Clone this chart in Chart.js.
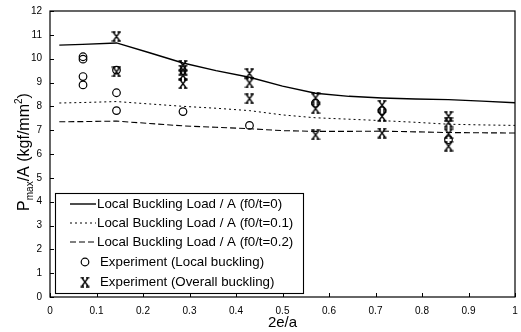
<!DOCTYPE html>
<html><head><meta charset="utf-8">
<script src="https://cdn.jsdelivr.net/npm/chart.js@4/dist/chart.umd.min.js"></script>
<style>html,body{margin:0;padding:0;background:#fff}#c{display:block}</style>
</head><body>
<canvas id="c" width="521" height="332"></canvas>
<script>
// ---- data ----
const curveX   = [0.02, 0.07, 0.143, 0.214, 0.286, 0.357, 0.429, 0.5, 0.571, 0.643, 0.714, 0.786, 0.857, 0.929, 1.0];
const curveF00 = [10.57, 10.6, 10.66, 10.25, 9.82, 9.5, 9.22, 8.85, 8.55, 8.42, 8.35, 8.31, 8.28, 8.22, 8.15];
const curveF01 = [8.14, 8.16, 8.2, 8.1, 8.0, 7.92, 7.82, 7.64, 7.52, 7.46, 7.4, 7.33, 7.25, 7.22, 7.2];
const curveF02 = [7.35, 7.36, 7.38, 7.28, 7.18, 7.12, 7.06, 6.98, 6.95, 6.95, 6.96, 6.93, 6.9, 6.89, 6.88];
const localX = [0.071, 0.071, 0.071, 0.071, 0.143, 0.143, 0.143, 0.286, 0.429, 0.571, 0.714, 0.857];
const localY = [10.08, 9.98, 9.25, 8.9, 9.52, 8.57, 7.82, 7.78, 7.2, 8.13, 7.82, 6.6];
const overallX = [0.143, 0.143, 0.286, 0.286, 0.286, 0.286, 0.429, 0.429, 0.429, 0.571, 0.571, 0.571, 0.714, 0.714, 0.714, 0.857, 0.857, 0.857, 0.857];
const overallY = [10.93, 9.45, 9.72, 9.52, 9.3, 8.95, 9.38, 8.98, 8.32, 8.35, 7.9, 6.8, 8.05, 7.58, 6.88, 7.58, 7.33, 6.85, 6.33];
const xTicks = [0, 0.1, 0.2, 0.3, 0.4, 0.5, 0.6, 0.7, 0.8, 0.9, 1];
const yTicks = [0, 1, 2, 3, 4, 5, 6, 7, 8, 9, 10, 11, 12];
const seriesNames = [
  'Local Buckling Load / A (f0/t=0)',
  'Local Buckling Load / A (f0/t=0.1)',
  'Local Buckling Load / A (f0/t=0.2)',
  'Experiment (Local buckling)',
  'Experiment (Overall buckling)'
];
const xTitle = '2e/a';

// ---- styles ----
const FONT = '"Liberation Sans", Arial, sans-serif';
const xMark = (() => {
  const c = document.createElement('canvas'); c.width = 10; c.height = 11;
  const g = c.getContext('2d'); g.strokeStyle = '#000'; g.lineWidth = 1.3; g.beginPath();
  g.moveTo(2, 1.5); g.lineTo(8, 9.5); g.moveTo(8, 1.5); g.lineTo(2, 9.5);
  g.moveTo(0.5, 1); g.lineTo(4, 1); g.moveTo(6, 1); g.lineTo(9.5, 1);
  g.moveTo(0.5, 10); g.lineTo(4, 10); g.moveTo(6, 10); g.lineTo(9.5, 10);
  g.stroke(); return c;
})();
const pts = (xs, ys) => xs.map((x, i) => ({x, y: ys[i]}));

const lineStyles = [
  {borderDash: [], borderWidth: 1.4},
  {borderDash: [2, 3], borderWidth: 1},
  {borderDash: [6, 3], borderWidth: 1.1}
];

const datasets = [
  {label: seriesNames[0], data: pts(curveX, curveF00), ...lineStyles[0]},
  {label: seriesNames[1], data: pts(curveX, curveF01), ...lineStyles[1]},
  {label: seriesNames[2], data: pts(curveX, curveF02), ...lineStyles[2]},
  {label: seriesNames[3], data: pts(localX, localY), showLine: false, pointStyle: 'circle',
   pointRadius: 3.8, pointBorderWidth: 1.2, pointBorderColor: '#000', pointBackgroundColor: 'rgba(0,0,0,0)'},
  {label: seriesNames[4], data: pts(overallX, overallY), showLine: false, pointStyle: xMark, pointRadius: 5}
].map((d, i) => Object.assign({borderColor: '#000', backgroundColor: '#000', tension: 0,
  pointRadius: 0, fill: false}, d, i < 3 ? {pointRadius: 0} : {}));

const decor = {
  id: 'decor',
  beforeDatasetsDraw(chart) {
    const {ctx, chartArea: a, scales: {x, y}} = chart;
    ctx.save();
    ctx.strokeStyle = '#000'; ctx.lineWidth = 1.2;
    ctx.strokeRect(a.left, a.top, a.right - a.left, a.bottom - a.top);
    ctx.lineWidth = 1; ctx.beginPath();
    xTicks.forEach(v => { const p = Math.round(x.getPixelForValue(v)) + 0.5; ctx.moveTo(p, a.bottom); ctx.lineTo(p, a.bottom - 4); });
    yTicks.forEach(v => { const p = Math.round(y.getPixelForValue(v)) + 0.5; ctx.moveTo(a.left, p); ctx.lineTo(a.left + 4, p); });
    ctx.stroke();
    ctx.restore();
  },
  afterDraw(chart) {
    const {ctx, chartArea: a} = chart;
    ctx.save();
    // legend
    const L = a.left + 5, T = a.top + 182, W = 248, H = 100;
    ctx.fillStyle = '#fff'; ctx.fillRect(L, T, W, H);
    ctx.strokeStyle = '#000'; ctx.lineWidth = 1.1; ctx.strokeRect(L + 0.5, T + 0.5, W, H);
    const rows = [11, 30, 49, 69, 89];
    ctx.font = '13.3px ' + FONT; ctx.textBaseline = 'middle'; ctx.textAlign = 'left'; ctx.fillStyle = '#000';
    chart.data.datasets.forEach((ds, i) => {
      const cy = T + rows[i];
      if (i < 3) {
        ctx.save(); ctx.setLineDash(ds.borderDash); ctx.lineWidth = ds.borderWidth;
        ctx.beginPath(); ctx.moveTo(L + 15, cy); ctx.lineTo(L + 41, cy); ctx.stroke(); ctx.restore();
        ctx.fillText(ds.label, L + 42, cy);
      } else {
        if (i === 3) { ctx.beginPath(); ctx.lineWidth = 1.2; ctx.arc(L + 30, cy, 3.8, 0, Math.PI * 2); ctx.stroke(); }
        else { ctx.drawImage(xMark, L + 25, cy - 5.5); }
        ctx.fillText(ds.label, L + 45, cy);
      }
    });
    // y title with subscript and superscript
    ctx.translate(25, 152);
    ctx.rotate(-Math.PI / 2);
    const big = '16px ' + FONT, small = '10px ' + FONT;
    const parts = [['P', big, 0], ['max', small, 5], ['/A (kgf/mm', big, 0], ['2', small, -6], [')', big, 0]];
    let total = 0;
    parts.forEach(p => { ctx.font = p[1]; total += ctx.measureText(p[0]).width; });
    let xx = -total / 2;
    parts.forEach(p => { ctx.font = p[1]; ctx.fillText(p[0], xx, p[2]); xx += ctx.measureText(p[0]).width; });
    ctx.restore();
  }
};

new Chart(document.getElementById('c'), {
  type: 'line',
  data: {datasets},
  plugins: [decor],
  options: {
    responsive: false, animation: false, devicePixelRatio: 1,
    layout: {padding: {top: 11, right: 4, left: 0, bottom: 0}},
    plugins: {legend: {display: false}, tooltip: {enabled: false}},
    scales: {
      x: {
        type: 'linear', min: 0, max: 1,
        afterBuildTicks: s => { s.ticks = xTicks.map(v => ({value: v})); },
        afterFit: s => { s.height = 35; },
        grid: {display: false}, border: {display: false},
        ticks: {color: '#000', padding: 0, font: {size: 10, family: FONT}, maxRotation: 0,
          callback: v => String(Math.round(v * 10) / 10)},
        title: {display: true, text: xTitle, color: '#000', font: {size: 15, family: FONT}, padding: {top: 0, bottom: 0}}
      },
      y: {
        type: 'linear', min: 0, max: 12,
        afterBuildTicks: s => { s.ticks = yTicks.map(v => ({value: v})); },
        afterFit: s => { s.width = 50; },
        grid: {display: false}, border: {display: false},
        ticks: {color: '#000', padding: 0, font: {size: 10, family: FONT}}
      }
    }
  }
});
</script>
</body></html>
